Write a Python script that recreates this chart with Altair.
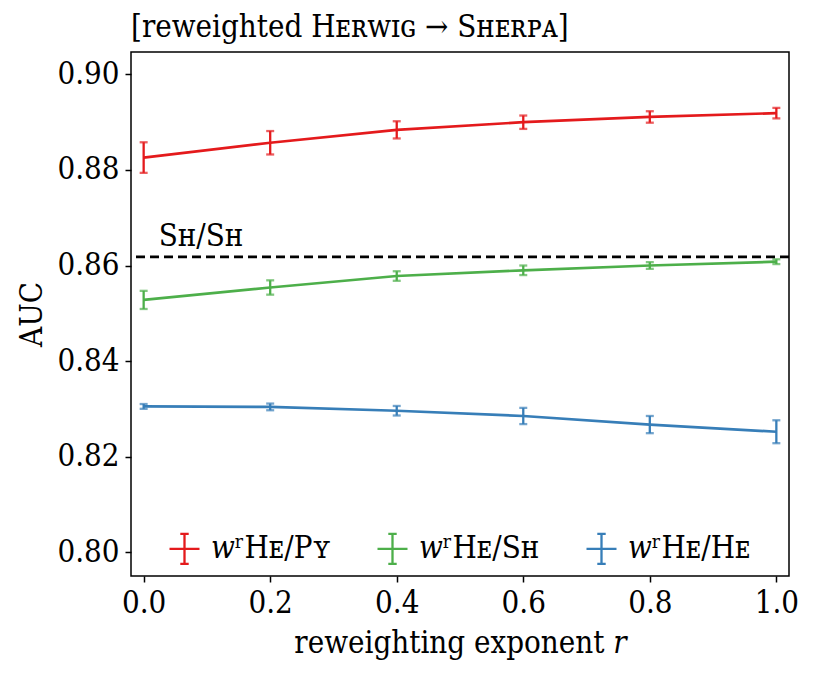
import altair as alt
import pandas as pd

# ---- data ----
r_values = [0.0, 0.2, 0.4, 0.6, 0.8, 1.0]
series_labels = ["𝑤ʳHᴇ/Pʏ", "𝑤ʳHᴇ/Sʜ", "𝑤ʳHᴇ/Hᴇ"]
py_auc = [0.8826, 0.8857, 0.8884, 0.8900, 0.8911, 0.8919]
py_err = [0.0032, 0.00245, 0.0018, 0.0014, 0.0012, 0.0011]
sh_auc = [0.8528, 0.8554, 0.8578, 0.8590, 0.8600, 0.8608]
sh_err = [0.0019, 0.0015, 0.0010, 0.0010, 0.0007, 0.0005]
he_auc = [0.8305, 0.8304, 0.8296, 0.8285, 0.8267, 0.8252]
he_err = [0.0005, 0.0007, 0.0010, 0.0017, 0.0018, 0.0024]
ref_auc = [0.8618]
ref_label = ["Sʜ/Sʜ"]
x_ticks = [0.0, 0.2, 0.4, 0.6, 0.8, 1.0]
y_ticks = [0.80, 0.82, 0.84, 0.86, 0.88, 0.90]
colors = ["#e41a1c", "#4daf4a", "#377eb8"]
title_text = "[reweighted Hᴇʀᴡɪɢ → Sʜᴇʀᴘᴀ]"
x_title = "reweighting exponent 𝑟"
y_title = "AUC"

rows = []
for lab, ys, es in zip(series_labels, [py_auc, sh_auc, he_auc], [py_err, sh_err, he_err]):
    for r, y, e in zip(r_values, ys, es):
        rows.append({"r": r, "auc": y, "lo": y - e, "hi": y + e, "series": lab})
df = pd.DataFrame(rows)
ref_df = pd.DataFrame({"r": [r_values[0]], "auc": ref_auc, "label": ref_label})

FONT = "DejaVu Serif Condensed, DejaVu Serif"
FS = 31

xscale = alt.Scale(domain=[-0.02, 1.02], nice=False, zero=False)
yscale = alt.Scale(domain=[0.795, 0.9047], nice=False, zero=False)
cscale = alt.Scale(domain=series_labels, range=colors)

xenc = alt.X("r:Q", scale=xscale, title=x_title,
             axis=alt.Axis(values=x_ticks, format=".1f"))
yaxis = alt.Axis(values=y_ticks, format=".2f")

cross = "M-1,0H1M0,-1V1M-0.28,-1H0.28M-0.28,1H0.28"

color_enc = alt.Color("series:N", scale=cscale, sort=series_labels,
                      legend=alt.Legend(title=None, orient="none", direction="horizontal",
                                        legendX=37, legendY=480,
                                        symbolType=cross, symbolSize=900,
                                        symbolStrokeWidth=2.3,
                                        labelFont=FONT, labelFontSize=FS,
                                        labelOffset=10, columnPadding=41,
                                        padding=0, labelColor="black"))

lines = alt.Chart(df).mark_line(strokeWidth=2.7).encode(
    x=xenc,
    y=alt.Y("auc:Q", scale=yscale, title=y_title, axis=yaxis),
    color=color_enc,
)

bars = alt.Chart(df).mark_errorbar(ticks=True, size=8, thickness=2.3).encode(
    x=alt.X("r:Q", scale=xscale),
    y=alt.Y("lo:Q", scale=yscale, title=y_title),
    y2="hi:Q",
    color=alt.Color("series:N", scale=cscale, legend=None),
)

ref_rule = alt.Chart(ref_df).mark_rule(color="black", strokeWidth=2.8, strokeDash=[9, 5]).encode(
    y=alt.Y("auc:Q", scale=yscale),
)

ref_text = alt.Chart(ref_df).mark_text(align="left", baseline="alphabetic", dx=15, dy=-11,
                                       font=FONT, fontSize=FS, color="black").encode(
    x=alt.X("r:Q", scale=xscale),
    y=alt.Y("auc:Q", scale=yscale),
    text="label:N",
)

chart = alt.layer(lines, bars, ref_rule, ref_text).properties(
    width=658, height=524,
    title=alt.TitleParams(title_text, anchor="start", frame="group", font=FONT, fontSize=FS,
                          fontWeight="normal", color="black", offset=8),
    autosize=alt.AutoSizeParams(type="none"),
    padding={"left": 123, "top": 44, "right": 16, "bottom": 100},
).configure_view(
    stroke="black", strokeWidth=1.5
).configure_axis(
    grid=False, domain=False, tickColor="black", tickWidth=1.5, tickSize=6,
    labelFont=FONT, labelFontSize=FS, labelColor="black", labelPadding=6,
    titleFont=FONT, titleFontSize=FS, titleFontWeight="normal", titleColor="black",
).configure_axisY(titlePadding=8).configure_axisX(titlePadding=10)

chart.save("out.html", embed_options={"renderer": "svg", "actions": False})
